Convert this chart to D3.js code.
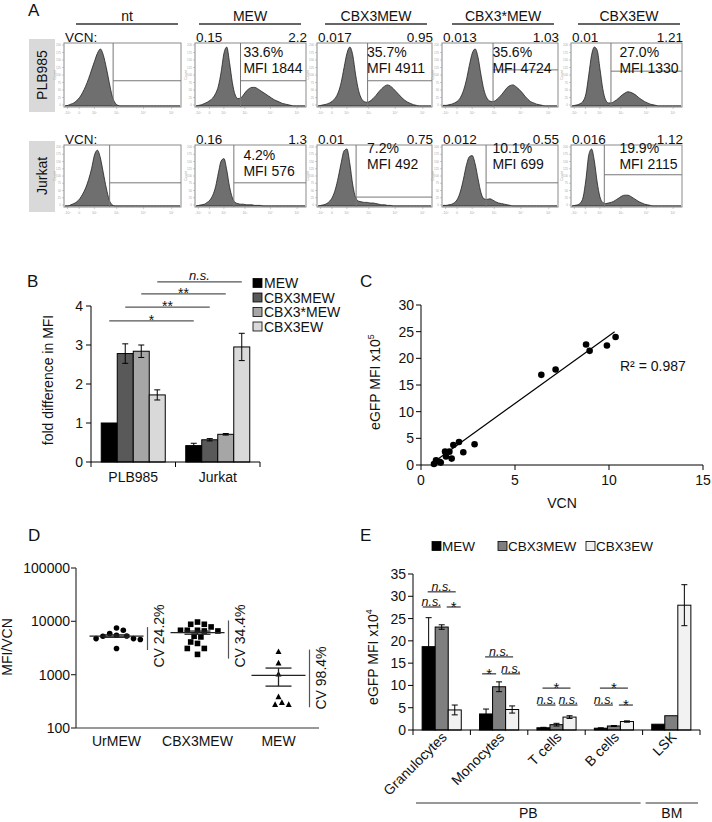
<!DOCTYPE html>
<html><head><meta charset="utf-8">
<script src="https://cdn.jsdelivr.net/npm/d3@7"></script>
<style>body{margin:0;background:#fff} svg{font-family:"Liberation Sans",Arial,sans-serif}</style>
</head><body><svg id="c" width="712" height="822"></svg>
<script>
// ---------------- DATA ----------------
// Panel A
const aConstructs = ["nt","MEW","CBX3MEW","CBX3*MEW","CBX3EW"];
const aCellLines = ["PLB985","Jurkat"];
const aVcnLow = [["VCN:","0.15","0.017","0.013","0.01"],["VCN:","0.16","0.01","0.012","0.016"]];
const aVcnHigh = [["","2.2","0.95","1.03","1.21"],["","1.3","0.75","0.55","1.12"]];
const aPercent = [["","33.6%","35.7%","35.6%","27.0%"],["","4.2%","7.2%","10.1%","19.9%"]];
const aMfi = [["","MFI 1844","MFI 4911","MFI 4724","MFI 1330"],["","MFI 576","MFI 492","MFI 699","MFI 2115"]];
// histogram bin heights (fraction of panel height), 40 bins across the fluorescence axis
const aHist = [
 [
  [0,0.01,0.03,0.05,0.09,0.14,0.22,0.32,0.44,0.58,0.72,0.85,0.92,0.82,0.62,0.38,0.16,0.05,0.01],
  [0,0.01,0.02,0.04,0.06,0.09,0.13,0.2,0.32,0.55,0.85,0.95,0.7,0.38,0.18,0.12,0.13,0.18,0.24,0.28,0.3,0.3,0.28,0.25,0.22,0.19,0.16,0.13,0.1,0.08,0.06,0.04,0.03,0.02,0.01],
  [0,0.01,0.02,0.03,0.05,0.08,0.13,0.22,0.38,0.62,0.85,0.95,0.82,0.5,0.25,0.12,0.07,0.06,0.08,0.12,0.17,0.23,0.28,0.32,0.34,0.32,0.28,0.23,0.18,0.13,0.09,0.06,0.04,0.02,0.01],
  [0.01,0.01,0.02,0.03,0.05,0.08,0.14,0.25,0.42,0.65,0.85,0.92,0.78,0.5,0.26,0.13,0.08,0.07,0.09,0.13,0.18,0.24,0.3,0.33,0.34,0.31,0.27,0.22,0.16,0.11,0.07,0.05,0.03,0.02,0.01],
  [0,0.01,0.02,0.04,0.08,0.2,0.5,0.82,0.95,0.9,0.6,0.28,0.1,0.05,0.05,0.07,0.1,0.14,0.18,0.21,0.23,0.22,0.2,0.17,0.13,0.1,0.07,0.05,0.03,0.02,0.01]
 ],
 [
  [0,0,0.02,0.04,0.07,0.12,0.2,0.3,0.44,0.62,0.85,0.93,0.8,0.55,0.3,0.1,0.02],
  [0,0.01,0.02,0.03,0.06,0.1,0.18,0.32,0.55,0.75,0.79,0.6,0.32,0.14,0.06,0.04,0.03,0.03,0.02,0.02,0.02,0.01,0.01,0.01],
  [0,0.01,0.02,0.04,0.08,0.15,0.28,0.48,0.72,0.92,0.95,0.7,0.35,0.14,0.08,0.07,0.06,0.06,0.05,0.05,0.04,0.03,0.02,0.02,0.01,0.01],
  [0.01,0.01,0.02,0.03,0.06,0.12,0.25,0.45,0.68,0.82,0.84,0.7,0.45,0.22,0.12,0.11,0.12,0.1,0.07,0.05,0.04,0.03,0.02,0.01],
  [0,0.01,0.02,0.05,0.15,0.45,0.85,0.95,0.75,0.4,0.15,0.06,0.04,0.05,0.06,0.08,0.11,0.14,0.17,0.18,0.18,0.16,0.13,0.1,0.07,0.05,0.03,0.02,0.01]
 ]
];
const aGate = [[0.42,0.41,0.44,0.44,0.36],[0.39,0.35,0.34,0.38,0.30]];
const aGateH = [[0.59,0.59,0.59,0.42,0.44],[0.61,0.61,0.84,0.61,0.48]];

// Panel B
const bGroups = ["PLB985","Jurkat"];
const bSeries = ["MEW","CBX3MEW","CBX3*MEW","CBX3EW"];
const bValues = [[1.0,2.78,2.84,1.72],[0.42,0.57,0.71,2.95]];
const bErrors = [[0,0.25,0.16,0.13],[0.06,0.03,0.02,0.35]];
const bTicks = [0,1,2,3,4];
const bSigLabels = ["*","**","**","n.s."];
const bSigLevels = [3.62,3.97,4.31,4.62];

// Panel C
const cVcn = [0.69,0.80,0.98,1.05,1.28,1.33,1.51,1.63,1.72,2.02,2.25,2.85,6.40,7.16,8.78,8.97,9.89,10.35];
const cMfi = [0.2,0.9,0.6,0.45,2.5,1.6,2.5,1.2,3.75,4.3,2.4,3.9,16.9,17.9,22.6,21.4,22.4,24.0];
const cFit = [[0.85,1.0],[10.3,25.0]];
const cXTicks = [0,5,10,15];
const cYTicks = [0,5,10,15,20,25,30];

// Panel D
const dGroups = ["UrMEW","CBX3MEW","MEW"];
const dUrMEW = [7500,6800,5900,5500,5250,5300,4750,4550,4750,3100];
const dCBX3MEW = [9700,8800,8800,7850,6800,6600,6800,6600,6800,5250,5100,4100,3850,3100,3100,2400];
const dMEW = [2700,1650,1020,385,300,275,275];
const dMean = [5300,6150,970];
const dSem = [280,420,360];
const dCV = ["CV 24.2%","CV 34.4%","CV 98.4%"];
const dCvRange = [[7800,2900],[10400,2000],[2950,245]];
const dTicks = [100,1000,10000,100000];

// Panel E
const eGroups = ["Granulocytes","Monocytes","T cells","B cells","LSK"];
const eSeries = ["MEW","CBX3MEW","CBX3EW"];
const eValues = [[18.7,23.1,4.5],[3.6,9.7,4.6],[0.5,1.2,2.9],[0.4,0.9,1.9],[1.3,3.2,28.0]];
const eErrors = [[6.5,0.5,1.1],[1.1,1.1,0.8],[0.1,0.3,0.3],[0.1,0.1,0.15],[0,0,4.6]];
const eTicks = [0,5,10,15,20,25,30,35];
// significance: [group, seriesA, seriesB, label, level, row]
const eSig = [
  [0,0,2,"n.s.",31.0,0],[0,0,1,"n.s.",27.6,1],[0,1,2,"*",27.6,1],
  [1,0,2,"n.s.",16.4,0],[1,0,1,"*",12.6,1],[1,1,2,"n.s.",12.6,1],
  [2,0,2,"*",9.4,0],[2,0,1,"n.s.",5.6,1],[2,1,2,"n.s.",5.6,1],
  [3,0,2,"*",9.4,0],[3,0,1,"n.s.",5.6,1],[3,1,2,"*",5.6,1]
];
const eRegions = [["PB",0,3],["BM",4,4]];

// ---------------- DRAW ----------------
const svg = d3.select("#c");
function T(g,x,y,s,size,anchor){
  return g.append("text").attr("x",x).attr("y",y).attr("font-size",size||14)
    .attr("text-anchor",anchor||"start").attr("fill","#111").text(s);
}
function L(g,x1,y1,x2,y2,col,w){
  return g.append("line").attr("x1",x1).attr("y1",y1).attr("x2",x2).attr("y2",y2)
    .attr("stroke",col||"#000").attr("stroke-width",w||1);
}

// ===== Panel A =====
const gA = svg.append("g");
T(gA,28,16,"A",17);
const aBoxX = [64,195,317,442,571], aBoxW = [117,111,115,116,111];
const aHeadX = [127,250,376,503,629];
const aRowY = [43,145], aRowH = [64,62];
const aTextDy = [[0,14,14,14,14],[0,15,8,8,8]];
aConstructs.forEach((c,i)=>{
  T(gA,aHeadX[i],21,c,14,"middle");
  L(gA,aHeadX[i]-51,24,aHeadX[i]+51,24,"#333",1.5);
});
aCellLines.forEach((cl,r)=>{
  const y0 = aRowY[r], h = aRowH[r];
  gA.append("rect").attr("x",29).attr("y",y0-4).attr("width",26).attr("height",h+9).attr("fill","#d9d9d9");
  T(gA,47,y0+h/2,cl,14,"middle").attr("transform",`rotate(-90,47,${y0+h/2})`);
  aConstructs.forEach((c,i)=>{
    const x0 = aBoxX[i], w = aBoxW[i];
    const n = 40;
    const vals = d3.range(n).map(k=>aHist[r][i][k]||0);
    const xs = d3.scaleLinear().domain([0,n-1]).range([x0+1,x0+w-1]);
    const ys = d3.scaleLinear().domain([0,1]).range([y0+h-1,y0+1]);
    gA.append("path").datum(vals)
      .attr("d",d3.area().x((d,k)=>xs(k)).y0(y0+h-1).y1(d=>ys(d)).curve(d3.curveMonotoneX))
      .attr("fill","#6f6f6f").attr("stroke","#222").attr("stroke-width",0.8);
    gA.append("rect").attr("x",x0).attr("y",y0).attr("width",w).attr("height",h)
      .attr("fill","none").attr("stroke","#8a8a8a").attr("stroke-width",1);
    // tiny axes
    d3.range(9).forEach(k=>{
      const yy = y0+h-2-k*(h-4)/8;
      L(gA,x0-2,yy,x0,yy,"#999",0.5);
      T(gA,x0-3,yy+1,"" + (k*25),3,"end").attr("fill","#aaa");
    });
    T(gA,x0-8,y0+h/2,"Count",3.5,"middle").attr("fill","#999").attr("transform",`rotate(-90,${x0-8},${y0+h/2})`);
    [0.03,0.13,0.26,0.45,0.68,0.92].forEach((f,k)=>{
      const xx = x0+f*w;
      L(gA,xx,y0+h,xx,y0+h+2,"#999",0.5);
      T(gA,xx,y0+h+7,["-10²","0","10²","10³","10⁴","10⁵"][k],3.5,"middle").attr("fill","#aaa");
    });
    d3.range(40).forEach(k=>{ if(k%4) L(gA,x0+(k+0.5)*w/40,y0+h,x0+(k+0.5)*w/40,y0+h+1,"#bbb",0.4); });
    // gates
    const gx = x0 + aGate[r][i]*w;
    L(gA,gx,y0,gx,y0+h,"#777",1);
    L(gA,gx,y0+aGateH[r][i]*h,x0+w,y0+aGateH[r][i]*h,"#777",1);
    // texts
    T(gA,x0+1,y0-1,aVcnLow[r][i],13.5);
    T(gA,x0+w+1,y0-1,aVcnHigh[r][i],13.5,"end");
    const tx = x0+0.40*w+4;
    T(gA,tx,y0+aTextDy[r][i]+0,aPercent[r][i],14);
    T(gA,tx,y0+aTextDy[r][i]+16,aMfi[r][i],14);
  });
});

// ===== Panel B =====
const gB = svg.append("g");
T(gB,27,287,"B",17);
const bX = d3.scaleBand().domain(bGroups).range([91,260]).padding(0);
const bXi = d3.scaleBand().domain(bSeries).range([0,bX.bandwidth()]).paddingInner(0).paddingOuter(0.64);
const bY = d3.scaleLinear().domain([0,4]).range([462,306]);
const bColors = ["#000000","#595959","#a6a6a6","#d9d9d9"];
bGroups.forEach((g,gi)=>{
  bSeries.forEach((s,si)=>{
    const x = bX(g)+bXi(s), v = bValues[gi][si];
    gB.append("rect").attr("x",x).attr("y",bY(v)).attr("width",bXi.bandwidth()).attr("height",bY(0)-bY(v))
      .attr("fill",bColors[si]).attr("stroke","#000").attr("stroke-width",1);
  });
  bSeries.forEach((s,si)=>{
    const e = bErrors[gi][si]; if(!e) return;
    const cx = bX(g)+bXi(s)+bXi.bandwidth()/2, v = bValues[gi][si];
    L(gB,cx,bY(v+e),cx,bY(v-e),"#000",1);
    L(gB,cx-3,bY(v+e),cx+3,bY(v+e),"#000",1);
    L(gB,cx-3,bY(v-e),cx+3,bY(v-e),"#000",1);
  });
  T(gB,bX(g)+bX.bandwidth()/2,482,g,14,"middle");
});
L(gB,91,306,91,462,"#000",1);
L(gB,91,462,260,462,"#000",1);
bTicks.forEach(t=>{ L(gB,86,bY(t),91,bY(t),"#000",1); T(gB,83,bY(t)+5,t,14,"end"); });
[91,bX.range()[0]+bX.bandwidth(),260].forEach(x=>L(gB,x,462,x,467,"#000",1));
T(gB,53,380,"fold difference in  MFI",14,"middle").attr("transform","rotate(-90,53,380)");
bSigLabels.forEach((lab,i)=>{
  const x1 = bX(bGroups[0])+bXi(bSeries[i])+bXi.bandwidth()/2;
  const x2 = bX(bGroups[1])+bXi(bSeries[i])+bXi.bandwidth()/2;
  const y = bY(bSigLevels[i]);
  L(gB,x1,y,x2,y,"#555",1.3);
  const t = T(gB,(x1+x2)/2,lab==="n.s."?y-2:y+4,lab,lab==="n.s."?13:14,"middle");
  if(lab==="n.s.") t.attr("font-style","italic");
});
bSeries.forEach((s,i)=>{
  const cy = 283+i*14.5;
  gB.append("rect").attr("x",253).attr("y",cy-4.5).attr("width",9).attr("height",9)
    .attr("fill",bColors[i]).attr("stroke","#000").attr("stroke-width",0.8);
  T(gB,264,cy+5,s,14);
});

// ===== Panel C =====
const gC = svg.append("g");
T(gC,360,287,"C",17);
const cX = d3.scaleLinear().domain([0,15]).range([421,703]);
const cY = d3.scaleLinear().domain([0,30]).range([465,305]);
L(gC,421,305,421,465,"#000",1);
L(gC,421,465,703,465,"#000",1);
cYTicks.forEach(t=>{ L(gC,416,cY(t),421,cY(t),"#000",1); T(gC,414,cY(t)+5,t,14,"end"); });
cXTicks.forEach(t=>{ L(gC,cX(t),465,cX(t),470,"#000",1); T(gC,cX(t),485,t,14,"middle"); });
T(gC,562,508,"VCN",14,"middle");
const cyl = T(gC,380,382,"eGFP MFI x10",14,"middle").attr("transform","rotate(-90,380,382)");
cyl.append("tspan").attr("font-size",9).attr("dy",-6).text("5");
gC.append("line").attr("x1",cX(cFit[0][0])).attr("y1",cY(cFit[0][1])).attr("x2",cX(cFit[1][0])).attr("y2",cY(cFit[1][1]))
  .attr("stroke","#000").attr("stroke-width",1.2);
cVcn.forEach((v,i)=>{
  gC.append("circle").attr("cx",cX(v)).attr("cy",cY(cMfi[i])).attr("r",3.3).attr("fill","#000");
});
T(gC,620,371,"R² = 0.987",14);

// ===== Panel D =====
const gD = svg.append("g");
T(gD,28,541,"D",17);
const dX = d3.scalePoint().domain(dGroups).range([76,319]).padding(0.5);
const dY = d3.scaleLog().domain([100,100000]).range([728,568]);
L(gD,76,568,76,728,"#333",1.2);
L(gD,76,728,319,728,"#333",1.2);
dTicks.forEach(t=>{ L(gD,71,dY(t),76,dY(t),"#333",1.2); T(gD,70,dY(t)+5,t,14,"end"); });
dGroups.forEach(g=>T(gD,dX(g),746,g,14,"middle"));
T(gD,12,647,"MFI/VCN",14,"middle").attr("transform","rotate(-90,12,647)");
function dodge(vals, r, step){
  const pts = vals.map(v=>({v,y:dY(v)})).sort((a,b)=>a.y-b.y);
  const placed = [];
  pts.forEach(p=>{
    let best = 0;
    outer: for(let k=0;k<30;k++){
      for(const s of (k===0?[0]:[k,-k])){
        const x = s*step;
        if(placed.every(q=>Math.hypot(q.x-x,q.y-p.y)>=2*r)){ best=x; break outer; }
      }
    }
    p.x = best; placed.push(p);
  });
  return placed;
}
const dSets = [dUrMEW,dCBX3MEW,dMEW];
dSets.forEach((set,gi)=>{
  const cx = dX(dGroups[gi]);
  const pts = dodge(set,3.3,3.4);
  pts.forEach(p=>{
    const x = cx+p.x, y = p.y;
    if(gi===0) gD.append("circle").attr("cx",x).attr("cy",y).attr("r",2.8).attr("fill","#000");
    else if(gi===1) gD.append("rect").attr("x",x-2.8).attr("y",y-2.8).attr("width",5.6).attr("height",5.6).attr("fill","#000");
    else gD.append("path").attr("d",`M${x},${y-3.2}L${x+3},${y+2.4}L${x-3},${y+2.4}Z`).attr("fill","#000");
  });
  const m = dMean[gi], s = dSem[gi];
  L(gD,cx-27,dY(m),cx+27,dY(m),"#222",1.3);
  L(gD,cx,dY(m+s),cx,dY(m-s),"#222",1.3);
  L(gD,cx-13,dY(m+s),cx+13,dY(m+s),"#222",1.3);
  L(gD,cx-13,dY(m-s),cx+13,dY(m-s),"#222",1.3);
  const lx = cx+31;
  L(gD,lx,dY(dCvRange[gi][0]),lx,dY(dCvRange[gi][1]),"#555",1.2);
  const tcy = gi<2 ? 636 : 678;
  T(gD,lx+16,tcy,dCV[gi],14,"middle").attr("transform",`rotate(-90,${lx+16},${tcy})`);
});

// ===== Panel E =====
const gE = svg.append("g");
T(gE,360,541,"E",17);
const eX = d3.scaleBand().domain(eGroups).range([413,700]).padding(0);
const eXi = d3.scaleBand().domain(eSeries).range([0,eX.bandwidth()]).paddingInner(0).paddingOuter(0.7);
const eY = d3.scaleLinear().domain([0,35]).range([730,574]);
const eColors = ["#000000","#7f7f7f","#f2f2f2"];
const eCx = (gi,si)=>eX(eGroups[gi])+eXi(eSeries[si])+eXi.bandwidth()/2;
eGroups.forEach((g,gi)=>{
  eSeries.forEach((s,si)=>{
    const v = eValues[gi][si];
    gE.append("rect").attr("x",eX(g)+eXi(s)).attr("y",eY(v)).attr("width",eXi.bandwidth()).attr("height",eY(0)-eY(v))
      .attr("fill",eColors[si]).attr("stroke","#000").attr("stroke-width",1);
  });
  eSeries.forEach((s,si)=>{
    const e = eErrors[gi][si]; if(!e) return;
    const cx = eCx(gi,si), v = eValues[gi][si];
    L(gE,cx,eY(v+e),cx,eY(Math.max(0,v-e)),"#000",1);
    L(gE,cx-3,eY(v+e),cx+3,eY(v+e),"#000",1);
    L(gE,cx-3,eY(Math.max(0,v-e)),cx+3,eY(Math.max(0,v-e)),"#000",1);
  });
  const lx = eX(g)+eX.bandwidth()/2+6;
  T(gE,lx,738,g,14,"end").attr("transform",`rotate(-45,${lx},738)`);
});
L(gE,413,574,413,730,"#000",1);
L(gE,413,730,700,730,"#000",1);
eTicks.forEach(t=>{ L(gE,408,eY(t),413,eY(t),"#000",1); T(gE,406,eY(t)+5,t,14,"end"); });
eGroups.forEach((g,gi)=>{ const x = eX(g)+eX.bandwidth(); L(gE,x,730,x,735,"#000",1); });
L(gE,413,730,413,735,"#000",1);
const eyl = T(gE,378,657,"eGFP MFI x10",14,"middle").attr("transform","rotate(-90,378,657)");
eyl.append("tspan").attr("font-size",9).attr("dy",-6).text("4");
eSig.forEach(([gi,a,b,lab,lev,row])=>{
  const gc = eX(eGroups[gi])+eX.bandwidth()/2;
  let cx, hw;
  if(row===0){ cx = gc; hw = 14; }
  else { cx = gc + (a===0 ? -10 : 12); hw = lab==="n.s." ? 9 : 7; }
  const y = eY(lev);
  L(gE,cx-hw,y,cx+hw,y,"#333",1.2);
  const isNs = lab==="n.s.";
  const t = T(gE,cx, isNs?y-1:y+5, lab, isNs?12.5:15, "middle");
  if(isNs) t.attr("font-style","italic");
});
const eLegX = [432,498,586];
eSeries.forEach((s,i)=>{
  const sx = eLegX[i];
  gE.append("rect").attr("x",sx).attr("y",541.5).attr("width",9).attr("height",9)
    .attr("fill",eColors[i]).attr("stroke","#000").attr("stroke-width",0.8);
  T(gE,sx+10,551,s,13.5);
});
eRegions.forEach(([lab,a,b])=>{
  const x1 = eX(eGroups[a])+3, x2 = eX(eGroups[b])+eX.bandwidth()-2;
  L(gE,x1,803,x2,803,"#333",1.2);
  T(gE,(x1+x2)/2,818,lab,14,"middle");
});
</script></body></html>
